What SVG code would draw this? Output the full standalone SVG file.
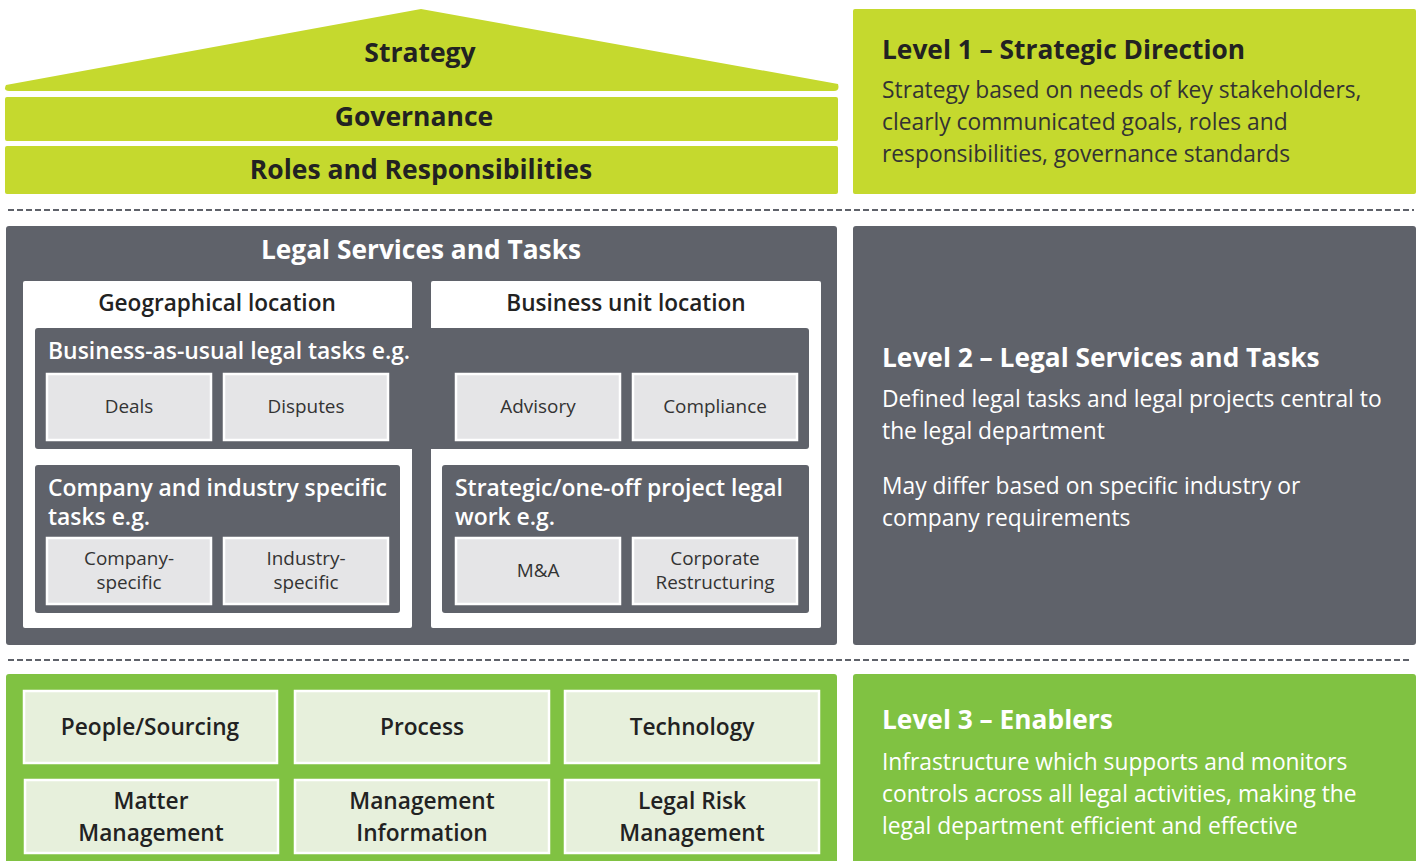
<svg xmlns="http://www.w3.org/2000/svg" width="1422" height="861" viewBox="0 0 1422 861">
<defs>
<style>
text{font-family:"Open Sans","Liberation Sans",sans-serif}
.lime{fill:#c5d92e}
.dark{fill:#5f626a}
.green{fill:#80c242}
.hb{font-weight:700;fill:#222;text-anchor:middle;font-size:26.5px}
.lt{font-size:26.3px;font-weight:700}
.body{font-size:22.8px;fill:#333}
.wt{fill:#fff}
.cell{fill:#e5e5e7;stroke:#fff;stroke-width:2.5}
.ctxt{font-size:18.9px;fill:#333;text-anchor:middle}
.gcell{fill:#e7f0dc;stroke:#fff;stroke-width:2.5}
.gtxt{font-size:22.7px;font-weight:600;fill:#222;text-anchor:middle}
.sub{font-size:22.6px;font-weight:600;fill:#222;text-anchor:middle}
.grp{font-size:22.9px;font-weight:600;fill:#fff}
.dash{stroke:#5f626a;stroke-width:2;stroke-dasharray:6 3;fill:none}
</style>
</defs>
<rect width="1422" height="861" fill="#fff"/>

<g id="connectors">
<line class="dash" x1="8" y1="210" x2="1414" y2="210"/>
<line class="dash" x1="8" y1="660" x2="1410" y2="660"/>
</g>

<g id="strategy">
<path class="lime" d="M421,9 L838,84 Q840,91 834,91 L9,91 Q3,91 6,85 Z"/>
<text class="hb" x="420" y="62">Strategy</text>
</g>
<g id="governance">
<rect class="lime" x="5" y="97" width="833" height="44" rx="2"/>
<text class="hb" x="414" y="126">Governance</text>
</g>
<g id="roles">
<rect class="lime" x="5" y="146" width="833" height="48" rx="2"/>
<text class="hb" x="421" y="179">Roles and Responsibilities</text>
</g>

<g id="level1">
<rect class="lime" x="853" y="9" width="563" height="185" rx="2"/>
<text x="882" y="59" class="lt" fill="#222">Level 1 – Strategic Direction</text>
<text class="body" x="882" y="98">Strategy based on needs of key stakeholders,</text>
<text class="body" x="882" y="130">clearly communicated goals, roles and</text>
<text class="body" x="882" y="162">responsibilities, governance standards</text>
</g>

<g id="legal-services">
<rect class="dark" x="6" y="226" width="831" height="419" rx="3"/>
<text x="421" y="259" text-anchor="middle" font-size="26.3" font-weight="700" fill="#fff">Legal Services and Tasks</text>
</g>
<g id="geo">
<rect fill="#fff" x="23" y="281" width="389" height="347" rx="2"/>
<text class="sub" x="217" y="311">Geographical location</text>
</g>
<g id="bu">
<rect fill="#fff" x="431" y="281" width="390" height="347" rx="2"/>
<text class="sub" x="626" y="311">Business unit location</text>
</g>
<g id="bau">
<rect class="dark" x="35" y="328" width="774" height="121" rx="3"/>
<text class="grp" x="48" y="359">Business-as-usual legal tasks e.g.</text>
</g>
<g id="deals"><rect class="cell" x="47" y="374" width="164" height="66"/><text class="ctxt" x="129" y="413">Deals</text></g>
<g id="disputes"><rect class="cell" x="224" y="374" width="164" height="66"/><text class="ctxt" x="306" y="413">Disputes</text></g>
<g id="advisory"><rect class="cell" x="456" y="374" width="164" height="66"/><text class="ctxt" x="538" y="413">Advisory</text></g>
<g id="compliance"><rect class="cell" x="633" y="374" width="164" height="66"/><text class="ctxt" x="715" y="413">Compliance</text></g>

<g id="company">
<rect class="dark" x="35" y="465" width="365" height="148" rx="3"/>
<text class="grp" x="48" y="496">Company and industry specific</text>
<text class="grp" x="48" y="525">tasks e.g.</text>
</g>
<g id="company-specific"><rect class="cell" x="47" y="538" width="164" height="66"/><text class="ctxt" x="129" y="565">Company-</text><text class="ctxt" x="129" y="589">specific</text></g>
<g id="industry-specific"><rect class="cell" x="224" y="538" width="164" height="66"/><text class="ctxt" x="306" y="565">Industry-</text><text class="ctxt" x="306" y="589">specific</text></g>

<g id="strategic">
<rect class="dark" x="442" y="465" width="367" height="148" rx="3"/>
<text class="grp" x="455" y="496">Strategic/one-off project legal</text>
<text class="grp" x="455" y="525">work e.g.</text>
</g>
<g id="ma"><rect class="cell" x="456" y="538" width="164" height="66"/><text class="ctxt" x="538" y="577">M&amp;A</text></g>
<g id="corporate"><rect class="cell" x="633" y="538" width="164" height="66"/><text class="ctxt" x="715" y="565">Corporate</text><text class="ctxt" x="715" y="589">Restructuring</text></g>

<g id="level2">
<rect class="dark" x="853" y="226" width="563" height="419" rx="3"/>
<text x="882" y="367" class="lt wt">Level 2 – Legal Services and Tasks</text>
<text class="body wt" x="882" y="407">Defined legal tasks and legal projects central to</text>
<text class="body wt" x="882" y="439">the legal department</text>
<text class="body wt" x="882" y="494">May differ based on specific industry or</text>
<text class="body wt" x="882" y="526">company requirements</text>
</g>

<g id="enablers">
<rect class="green" x="6" y="674" width="831" height="190" rx="3"/>
</g>
<g id="people"><rect class="gcell" x="24" y="691" width="253" height="72"/><text class="gtxt" x="150" y="735">People/Sourcing</text></g>
<g id="process"><rect class="gcell" x="295" y="691" width="254" height="72"/><text class="gtxt" x="422" y="735">Process</text></g>
<g id="technology"><rect class="gcell" x="565" y="691" width="254" height="72"/><text class="gtxt" x="692" y="735">Technology</text></g>
<g id="matter"><rect class="gcell" x="25" y="780" width="253" height="73"/><text class="gtxt" x="151" y="809">Matter</text><text class="gtxt" x="151" y="841">Management</text></g>
<g id="mi"><rect class="gcell" x="295" y="780" width="254" height="73"/><text class="gtxt" x="422" y="809">Management</text><text class="gtxt" x="422" y="841">Information</text></g>
<g id="lrm"><rect class="gcell" x="565" y="780" width="254" height="73"/><text class="gtxt" x="692" y="809">Legal Risk</text><text class="gtxt" x="692" y="841">Management</text></g>

<g id="level3">
<rect class="green" x="853" y="674" width="563" height="190" rx="3"/>
<text x="882" y="729" class="lt wt">Level 3 – Enablers</text>
<text class="body wt" x="882" y="770">Infrastructure which supports and monitors</text>
<text class="body wt" x="882" y="802">controls across all legal activities, making the</text>
<text class="body wt" x="882" y="834">legal department efficient and effective</text>
</g>
</svg>
